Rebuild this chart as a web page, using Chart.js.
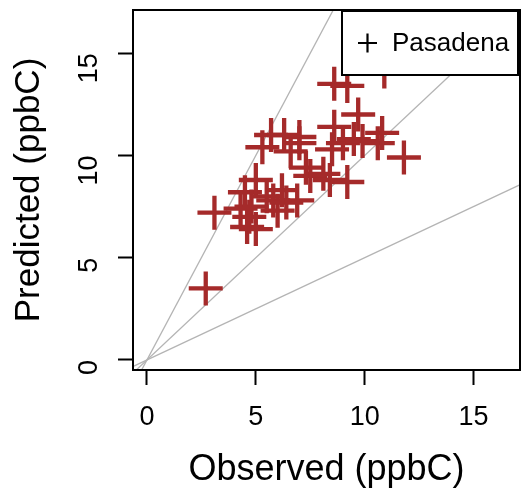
<!DOCTYPE html>
<html>
<head>
<meta charset="utf-8">
<script src="https://cdn.jsdelivr.net/npm/chart.js@4.4.1/dist/chart.umd.min.js"></script>
<style>
  html, body { margin: 0; padding: 0; background: #ffffff; }
  #wrap { width: 522px; height: 492px; }
</style>
</head>
<body>
<div id="wrap"><canvas id="c" width="522" height="492"></canvas></div>
<script>
// Observed vs predicted (ppbC), Pasadena
const observed  = [2.7, 3.1, 4.5, 4.6, 5.0, 5.0, 4.8, 5.3, 5.7, 5.8, 6.0, 6.4, 6.9, 7.0, 7.0, 6.6, 7.5, 8.1, 8.4, 8.5, 8.6, 9.0, 9.2, 9.5, 9.7, 9.9, 10.6, 10.8, 11.8, 8.6, 9.2, 10.9, 4.7, 5.5, 6.2, 7.3, 6.3, 4.3];
const predicted = [3.5, 7.2, 8.2, 6.5, 6.4, 8.8, 7.5, 10.4, 11.0, 7.8, 7.3, 7.7, 7.8, 10.6, 10.9, 10.2, 9.0, 9.1, 8.8, 10.3, 11.4, 10.6, 8.7, 10.8, 12.0, 10.7, 10.6, 11.1, 9.9, 13.5, 13.4, 14.1, 7.0, 8.0, 8.3, 9.4, 11.0, 7.4];
const refSlopes = [2, 1, 0.5];
const tickValues = [0, 5, 10, 15];
const seriesName = 'Pasadena';

const pts = observed.map((x, i) => ({ x: x, y: predicted[i] }));
const refSets = refSlopes.map(s => ({
  type: 'line',
  data: [{ x: -1, y: -1 * s }, { x: 20, y: 20 * s }],
  borderColor: '#b4b4b4',
  borderWidth: 1.3,
  pointRadius: 0,
  fill: false,
  order: 2
}));

const boxPlugin = {
  id: 'boxAndLegend',
  afterDatasetsDraw(chart) {
    const ctx = chart.ctx, a = chart.chartArea;
    ctx.save();
    ctx.strokeStyle = '#000';
    ctx.lineWidth = 2;
    ctx.strokeRect(a.left, a.top, a.right - a.left, a.bottom - a.top);
    const lx = 342, ly = 11, lw = 176, lh = 64;
    ctx.fillStyle = '#fff';
    ctx.fillRect(lx, ly, lw, lh);
    ctx.lineWidth = 2;
    ctx.strokeRect(lx, ly, lw, lh);
    ctx.strokeStyle = '#000';
    ctx.lineWidth = 2.2;
    ctx.beginPath();
    ctx.moveTo(358, 43); ctx.lineTo(377, 43);
    ctx.moveTo(367.5, 33.5); ctx.lineTo(367.5, 52.5);
    ctx.stroke();
    ctx.fillStyle = '#000';
    ctx.font = '26px "Liberation Sans", Arial, sans-serif';
    ctx.textBaseline = 'middle';
    ctx.textAlign = 'left';
    ctx.fillText(seriesName, 392, 44);
    ctx.restore();
  }
};

const FONT = '"Liberation Sans", Arial, sans-serif';

new Chart(document.getElementById('c'), {
  type: 'scatter',
  data: {
    datasets: [{
      label: seriesName,
      data: pts,
      pointStyle: 'cross',
      pointRadius: 17,
      pointHoverRadius: 17,
      borderColor: '#a52a2a',
      backgroundColor: '#a52a2a',
      pointBorderWidth: 4.3,
      borderWidth: 4.3,
      order: 1
    }, ...refSets]
  },
  options: {
    responsive: false,
    animation: false,
    events: [],
    layout: { autoPadding: false, padding: { top: 10, right: 2, left: 0, bottom: 0 } },
    plugins: { legend: { display: false }, tooltip: { enabled: false } },
    scales: {
      x: {
        type: 'linear',
        min: -0.64, max: 17.13,
        afterBuildTicks(s) { s.ticks = tickValues.map(v => ({ value: v })); },
        afterFit(s) { s.height = 122; s.paddingLeft = 0; s.paddingRight = 0; },
        border: { display: false },
        grid: { drawOnChartArea: false, tickLength: 15, tickWidth: 2, tickColor: '#000', offset: false },
        ticks: { color: '#000', font: { size: 27, family: FONT }, padding: 16, maxRotation: 0 },
        title: { display: true, text: 'Observed (ppbC)', color: '#000', font: { size: 36, family: FONT }, padding: { top: 4, bottom: 0 } }
      },
      y: {
        type: 'linear',
        min: -0.49, max: 17.11,
        afterBuildTicks(s) { s.ticks = tickValues.map(v => ({ value: v })); },
        afterFit(s) { s.width = 133; s.paddingTop = 0; s.paddingBottom = 0; },
        border: { display: false },
        grid: { drawOnChartArea: false, tickLength: 15, tickWidth: 2, tickColor: '#000' },
        ticks: { color: '#000', font: { size: 27, family: FONT }, padding: 28, minRotation: 90, maxRotation: 90 },
        title: { display: true, text: 'Predicted (ppbC)', color: '#000', font: { size: 35, family: FONT }, padding: { top: 8, bottom: 0 } }
      }
    }
  },
  plugins: [boxPlugin]
});
</script>
</body>
</html>
